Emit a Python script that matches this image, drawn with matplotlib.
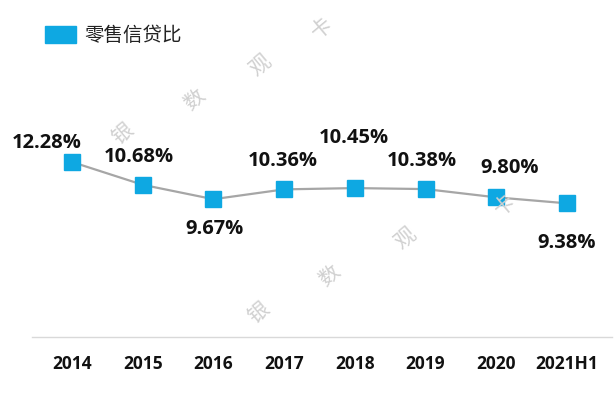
import matplotlib.pyplot as plt

plt.rcParams['font.family'] = ['Open Sans', 'Noto Sans CJK SC', 'DejaVu Sans']

# data
years = ['2014', '2015', '2016', '2017', '2018', '2019', '2020', '2021H1']
ratio = [12.28, 10.68, 9.67, 10.36, 10.45, 10.38, 9.80, 9.38]
series_name = '零售信贷比'

# label offsets in pixels (dx, dy) relative to each marker
offsets = [(-25, 19), (-4, 28), (1, -30), (-1, 28), (-1, 50), (-4, 28), (13, 29), (0, -40)]

fig = plt.figure(figsize=(6.16, 3.98), dpi=100)
ax = fig.add_axes([32/616, 61/398, 580/616, 317/398])

x = list(range(len(years)))
ax.plot(x, ratio, color='#a6a6a6', lw=1.6, zorder=2)
ax.plot(x, ratio, ls='none', marker='s', ms=12, color='#0ea8e2', zorder=3)

for xi, v, (dx, dy) in zip(x, ratio, offsets):
    ax.annotate(f'{v:.2f}%', (xi, v), xytext=(dx * 0.72, dy * 0.72),
                textcoords='offset points', ha='center', va='center',
                fontsize=14.5, fontweight='bold', color='#111111')

ax.set_xlim(-40/70.7, 7 + 45/70.7)
ax.set_ylim(0, 317 / 14.25)
ax.set_xticks(x)
ax.set_xticklabels(years, fontsize=12.5, fontweight='bold', color='#111111')
ax.tick_params(axis='x', length=0, pad=13)
ax.set_yticks([])
for s in ['top', 'left', 'right']:
    ax.spines[s].set_visible(False)
ax.spines['bottom'].set_color('#d9d9d9')
ax.spines['bottom'].set_linewidth(1)

# legend
fig.patches.append(plt.Rectangle((45/616, 1 - 43/398), 31/616, 17/398,
                                 transform=fig.transFigure, color='#0ea8e2'))
fig.text(84/616, 1 - 35/398, series_name, fontsize=14, va='center',
         family=['Noto Sans CJK SC', 'DejaVu Sans'], color='#222222')

# watermark
wm = [(122, 133, '银'), (195, 100, '数'), (260, 65, '观'), (322, 28, '卡'),
      (258, 312, '银'), (330, 276, '数'), (405, 238, '观'), (505, 205, '卡')]
for px, py, ch in wm:
    fig.text(px/616, 1 - py/398, ch, fontsize=15, rotation=40, color='#d0d0d0',
             ha='center', va='center', family=['Noto Sans CJK SC', 'DejaVu Sans'],
             zorder=5)

fig.savefig('out.png', dpi=100)
